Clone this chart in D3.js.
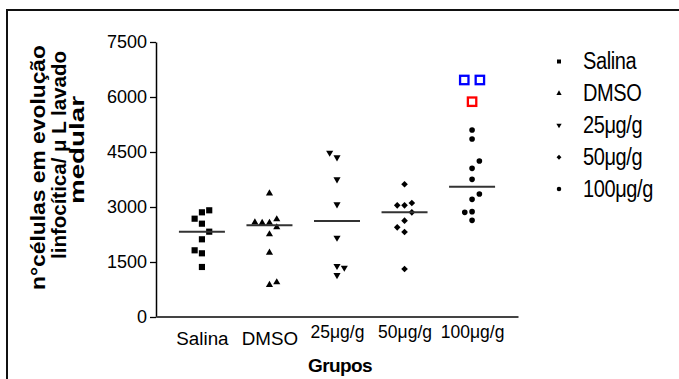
<!DOCTYPE html>
<html>
<head>
<meta charset="utf-8">
<script src="https://cdn.jsdelivr.net/npm/d3@7"></script>
<style>
  html, body { margin: 0; padding: 0; background: #fff; }
  svg { display: block; font-family: "Liberation Sans", Arial, Helvetica, sans-serif; }
</style>
</head>
<body>
<svg id="chart" width="679" height="379"></svg>
<script>
// Groups along the x axis
const groups = ["Salina", "DMSO", "25μg/g", "50μg/g", "100μg/g"];

// Cell counts per animal (cells/μL), in entry order
const salina  = [2855, 2545, 2119, 1737, 1364, 2910, 2681, 2327, 1819];
const dmso    = [3373, 2570, 2255, 1754, 873, 946, 2565, 2446, 2580, 2665];
const dose25  = [4355, 3755, 3073, 2163, 1391, 1145, 1345, 4481];
const dose50  = [3619, 3046, 2627, 2318, 1309, 3109, 3046, 2855, 2446];
const dose100 = [5100, 4855, 4055, 3755, 3209, 2873, 2636, 4255, 2855, 3355];

// Highlighted values in the 100μg/g group
const dose100Blue = [6464, 6464];
const dose100Red  = [5872];

const yTicks = [0, 1500, 3000, 4500, 6000, 7500];
const yTitleLines = ["n°células em evolução", "linfocítica/ μ L lavado", "medular"];
const xTitle = "Grupos";

const W = 679, H = 379;
const svg = d3.select("#chart");

// outer frame
svg.append("rect")
  .attr("x", 7).attr("y", 10)
  .attr("width", W).attr("height", H)
  .attr("fill", "none").attr("stroke", "#111").attr("stroke-width", 2);

const x = d3.scalePoint().domain(groups).range([156, 518]).padding(0.68);
const y = d3.scaleLinear().domain([0, 7500]).range([317, 42]);

// ---- axes ----
const yAxis = svg.append("g")
  .attr("transform", "translate(156,0)")
  .call(d3.axisLeft(y).tickValues(yTicks).tickSize(6).tickSizeOuter(0)
        .tickPadding(3).tickFormat(d3.format("d")));
yAxis.select(".domain").attr("stroke", "#000").attr("stroke-width", 1.5);
yAxis.selectAll(".tick line").attr("stroke", "#000").attr("stroke-width", 1.3);
yAxis.selectAll(".tick text").attr("font-size", 18).attr("fill", "#000")
  .attr("font-family", "Liberation Sans, Arial, sans-serif");

const xAxis = svg.append("g")
  .attr("transform", "translate(0,316.5)")
  .call(d3.axisBottom(x).tickSize(0).tickSizeOuter(0));
xAxis.select(".domain").attr("stroke", "#444").attr("stroke-width", 2);
xAxis.selectAll(".tick text")
  .attr("fill", "#000")
  .attr("font-family", "Liberation Sans, Arial, sans-serif")
  .attr("dy", null)
  .each(function(d) {
    const dose = d.includes("μ");
    d3.select(this)
      .attr("font-size", dose ? 17.5 : 18.8)
      .attr("y", dose ? 21 : 28.5);
  });

// axis titles
svg.append("text")
  .attr("x", 340).attr("y", 371.5)
  .attr("text-anchor", "middle")
  .attr("font-size", 19).attr("font-weight", "bold")
  .attr("letter-spacing", -0.6)
  .text(xTitle);

// each title line: baseline x, centre y, drawn length
const titleLayout = [
  { base: 45, center: 167.5, len: 245 },
  { base: 66, center: 155,   len: 208 },
  { base: 83.5, center: 150, len: 108 }
];
yTitleLines.forEach((line, i) => {
  const L = titleLayout[i];
  svg.append("text")
    .attr("transform", `translate(${L.base},${L.center}) rotate(-90)`)
    .attr("x", -L.len / 2)
    .attr("textLength", L.len)
    .attr("lengthAdjust", "spacingAndGlyphs")
    .attr("font-size", 20.5).attr("font-weight", "bold")
    .text(line);
});

// ---- column scatter ----
const SLOT = 7.3;      // horizontal step between side-by-side markers
const MIN_GAP = 8;     // vertical distance under which markers are pushed aside

function spread(values) {
  const placed = [];
  let side = 1;
  values.forEach(v => {
    const py = y(v);
    const free = s => placed.every(p => p.slot !== s || Math.abs(p.py - py) >= MIN_GAP);
    let slot = 0;
    if (!free(0)) {
      slot = [side, -side, 2 * side, -2 * side, 3 * side, -3 * side].find(free);
      side = -Math.sign(slot);
    }
    placed.push({ value: v, py, slot });
  });
  return placed;
}

const series = [
  { group: "Salina",  values: salina,  symbol: d3.symbolSquare,   size: 38, rot: 0 },
  { group: "DMSO",    values: dmso,    symbol: d3.symbolTriangle, size: 22, rot: 0 },
  { group: "25μg/g",  values: dose25,  symbol: d3.symbolTriangle, size: 22, rot: 180 },
  { group: "50μg/g",  values: dose50,  symbol: d3.symbolSquare,   size: 22, rot: 45 },
  { group: "100μg/g", values: dose100, symbol: d3.symbolCircle,   size: 25, rot: 0 }
];

const plot = svg.append("g");
series.forEach(s => {
  const cx = x(s.group);
  const pts = spread(s.values);
  plot.append("g").selectAll("path")
    .data(pts)
    .join("path")
    .attr("d", d3.symbol().type(s.symbol).size(s.size))
    .attr("transform", d => `translate(${cx + d.slot * SLOT},${d.py}) rotate(${s.rot})`)
    .attr("fill", "#000");

  // median line
  const med = d3.median(s.values);
  plot.append("line")
    .attr("x1", cx - 23).attr("x2", cx + 23)
    .attr("y1", y(med)).attr("y2", y(med))
    .attr("stroke", "#333").attr("stroke-width", 2);
});

// highlighted values: open squares, equal values set side by side
function drawFlagged(values, color) {
  const cx = x("100μg/g");
  const counts = d3.rollup(values, v => v.length, d => d);
  const seen = new Map();
  values.forEach(v => {
    const n = counts.get(v);
    const i = seen.get(v) || 0;
    seen.set(v, i + 1);
    const off = (i - (n - 1) / 2) * 15.6;
    plot.append("rect")
      .attr("x", cx + off - 4.2).attr("y", y(v) - 4.2)
      .attr("width", 8.4).attr("height", 8.4)
      .attr("fill", "none").attr("stroke", color).attr("stroke-width", 2.3);
  });
}
drawFlagged(dose100Blue, "#0000ff");
drawFlagged(dose100Red, "#ff0000");

// ---- legend ----
const legendSizes = [16, 12, 12, 12, 16];
const legend = svg.append("g");
series.forEach((s, i) => {
  const my = 61.5 + 31.9 * i;
  legend.append("path")
    .attr("d", d3.symbol().type(s.symbol).size(legendSizes[i]))
    .attr("transform", `translate(559,${my}) rotate(${s.rot})`)
    .attr("fill", "#000");
  legend.append("text")
    .attr("transform", `translate(583,${my + 7.5}) scale(1,1.15)`)
    .attr("font-size", 20)
    .attr("letter-spacing", -0.4)
    .text(s.group);
});
</script>
</body>
</html>
